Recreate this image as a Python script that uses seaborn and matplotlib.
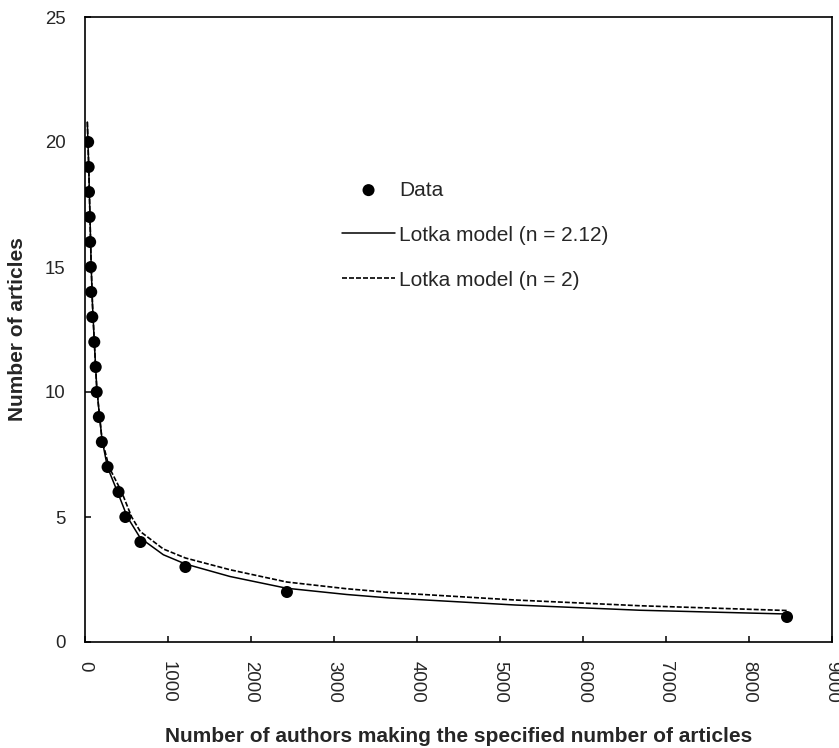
import matplotlib
matplotlib.use("Agg")
import matplotlib.pyplot as plt
import seaborn as sns
import pandas as pd

# observed data: number of articles and number of authors with that many articles
articles = [20, 19, 18, 17, 16, 15, 14, 13, 12, 11, 10, 9, 8, 7, 6, 5, 4, 3, 2, 1]
authors = [38, 44, 48, 56, 62, 70, 75, 88, 112, 129, 141, 167, 203, 272, 404, 486, 668, 1210, 2433, 8458]

# Lotka model curves
lotka212_x = [28, 45, 60, 75, 90, 112, 141, 170, 205, 270, 410, 510, 666, 944, 1210, 1747, 2430, 3153, 3675, 5181, 6687, 8454]
lotka212_y = [20.8, 19.0, 17.0, 15.0, 13.5, 12.0, 10.2, 9.2, 8.1, 7.0, 5.85, 5.0, 4.16, 3.49, 3.12, 2.62, 2.15, 1.90, 1.76, 1.48, 1.27, 1.12]
lotka2_x = [28, 45, 60, 75, 90, 112, 141, 170, 205, 289, 442, 562, 666, 944, 1210, 1747, 2430, 3153, 3675, 5181, 6687, 8454]
lotka2_y = [20.8, 19.0, 17.0, 15.0, 13.5, 12.0, 10.2, 9.2, 8.1, 7.0, 6.0, 5.0, 4.42, 3.72, 3.36, 2.89, 2.40, 2.13, 1.98, 1.68, 1.45, 1.26]

df = pd.DataFrame({"authors": authors, "articles": articles})
m1 = pd.DataFrame({"x": lotka212_x, "y": lotka212_y})
m2 = pd.DataFrame({"x": lotka2_x, "y": lotka2_y})

sns.set_style("ticks")
plt.rcParams["font.family"] = ["Liberation Sans", "DejaVu Sans"]
fs_tick = 13.4
fs_lab = 15

fig = plt.figure(figsize=(8.39, 7.48), dpi=100)
ax = fig.add_axes([85 / 839, 1 - 642 / 748, 747 / 839, 625 / 748])

sns.lineplot(data=m1, x="x", y="y", color="black", lw=1.1, ax=ax,
             estimator=None, sort=False, label="Lotka model (n = 2.12)")
sns.lineplot(data=m2, x="x", y="y", color="black", lw=1.2, ax=ax,
             estimator=None, sort=False, label="Lotka model (n = 2)")
ax.lines[-1].set_dashes((3, 1.2))
sns.scatterplot(data=df, x="authors", y="articles", color="black", s=75,
                edgecolor="none", ax=ax, label="Data", zorder=3)

ax.set_xlim(0, 9000)
ax.set_ylim(0, 25)
ax.set_xticks(range(0, 9001, 1000))
ax.set_yticks(range(0, 26, 5))
ax.tick_params(direction="in", length=4, width=1.1, labelsize=fs_tick, pad=14, color="black")
plt.setp(ax.get_xticklabels(), rotation=270)
for s in ax.spines.values():
    s.set_visible(True)
    s.set_linewidth(1.2)
    s.set_color("black")

ax.set_xlabel("Number of authors making the specified number of articles",
              fontsize=fs_lab, fontweight="bold")
ax.set_ylabel("Number of articles", fontsize=fs_lab, fontweight="bold")
ax.xaxis.set_label_coords(0.5, (642 - 727) / 625)
ax.yaxis.set_label_coords((27 - 85) / 747, 0.5)

handles, labels = ax.get_legend_handles_labels()
hmap = dict(zip(labels, handles))
order = ["Data", "Lotka model (n = 2.12)", "Lotka model (n = 2)"]
ax.legend([hmap[k] for k in order], order, frameon=False, fontsize=fs_lab,
          loc="center left", bbox_to_anchor=(0.344, 0.651),
          borderpad=0, borderaxespad=0, handlelength=2.55, handletextpad=0.2,
          labelspacing=1.25, markerscale=1.0)

fig.savefig("out.png", dpi=100)
